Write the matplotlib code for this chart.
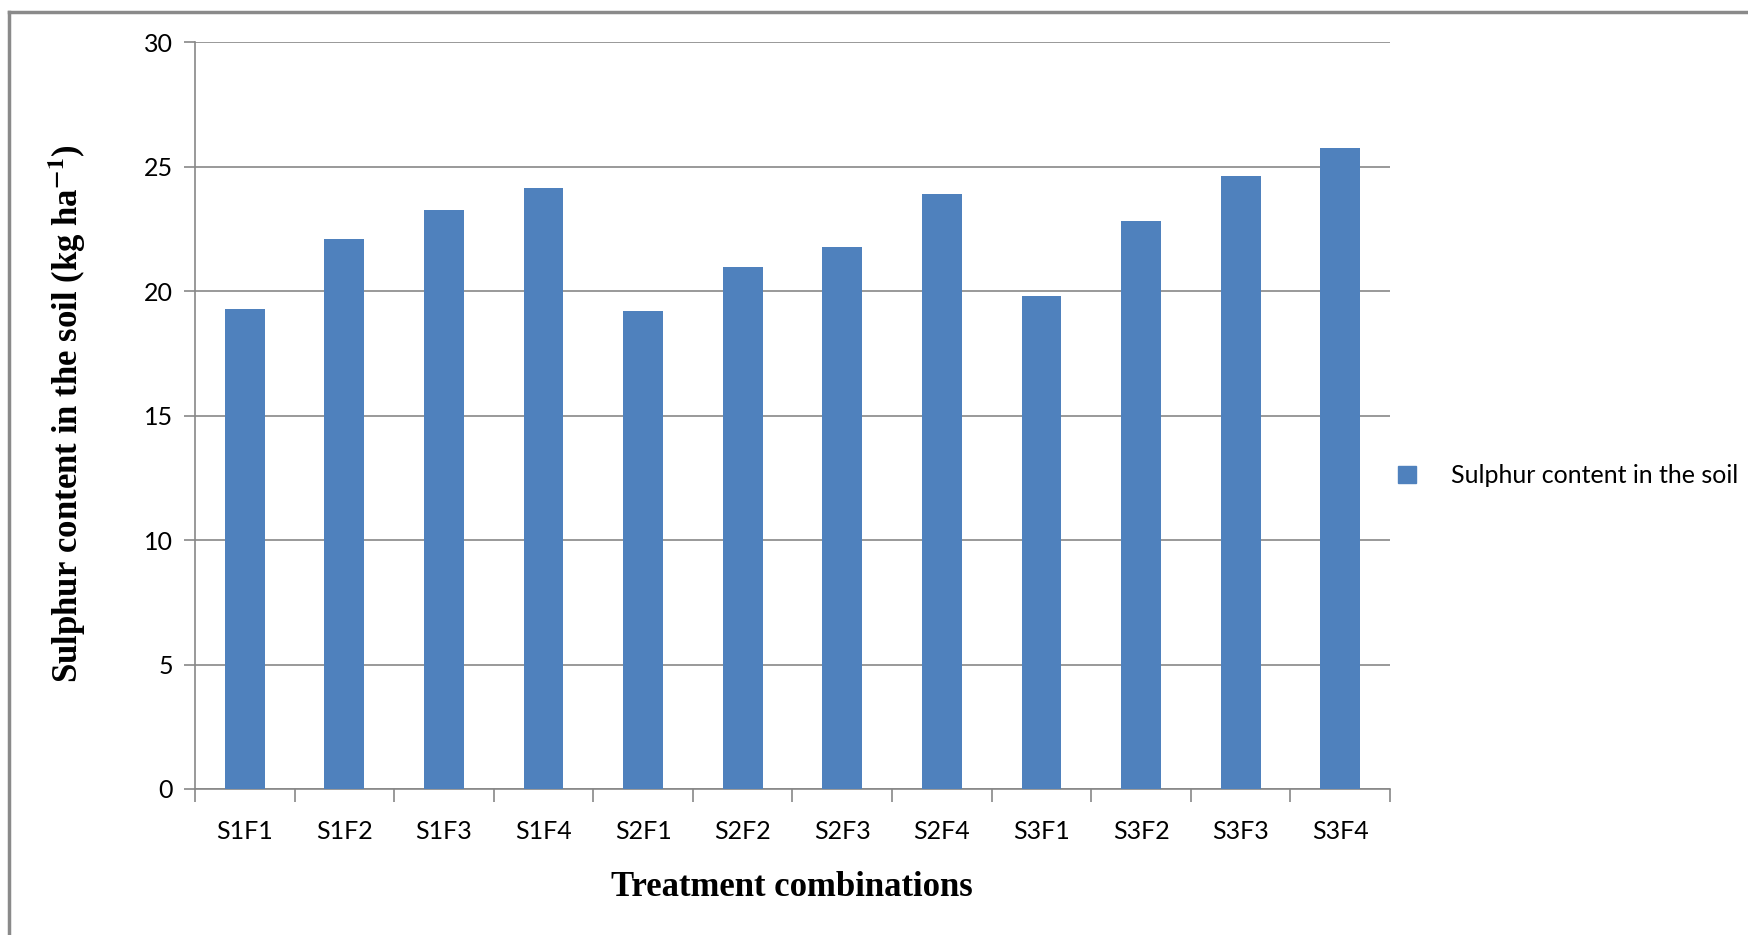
import numpy as np
import matplotlib
matplotlib.use('Agg')
import matplotlib.pyplot as plt
from matplotlib.patches import Rectangle
from matplotlib.lines import Line2D

# data
treatments = ['S1F1', 'S1F2', 'S1F3', 'S1F4', 'S2F1', 'S2F2',
              'S2F3', 'S2F4', 'S3F1', 'S3F2', 'S3F3', 'S3F4']
sulphur = [19.30, 22.09, 23.28, 24.15, 19.20, 20.96,
           21.77, 23.90, 19.82, 22.81, 24.62, 25.74]
y_ticks = [0, 5, 10, 15, 20, 25, 30]

bar_color = '#4F81BD'
grid_color = '#878787'
tick_font = ['Lato', 'DejaVu Sans']
label_font = ['Liberation Serif', 'DejaVu Serif']

plt.rcParams['mathtext.fontset'] = 'stix'

fig = plt.figure(figsize=(17.49, 9.35), dpi=100)
ax = fig.add_axes([195/1749, 1-789/935, (1390-195)/1749, (789-42.3)/935])

x = np.arange(len(treatments))
ax.bar(x, sulphur, width=0.40, color=bar_color, zorder=3)

ax.set_xlim(-0.5, len(treatments) - 0.5)
ax.set_ylim(0, 30)
ax.set_yticks(y_ticks)
ax.set_yticklabels([str(v) for v in y_ticks], family=tick_font, fontsize=18)
ax.yaxis.grid(True, color=grid_color, linewidth=1.2, zorder=0)

# category labels centred, tick marks on the boundaries
ax.set_xticks(x)
ax.set_xticklabels(treatments, family=tick_font, fontsize=18)
ax.set_xticks(np.arange(-0.5, len(treatments), 1.0), minor=True)
ax.tick_params(axis='x', which='major', length=0, pad=22)
ax.tick_params(axis='x', which='minor', length=9, width=1.2, color=grid_color, direction='out')
ax.tick_params(axis='y', length=8, width=1.2, color=grid_color, direction='out', pad=8)

for side in ['top', 'right']:
    ax.spines[side].set_visible(False)
for side in ['left', 'bottom']:
    ax.spines[side].set_color(grid_color)
    ax.spines[side].set_linewidth(1.2)

fig.text(792/1749, 1-887/935, 'Treatment combinations', family=label_font,
         fontweight='bold', fontsize=25, ha='center', va='center')
fig.text(67/1749, 1-414/935, 'Sulphur content in the soil (kg ha$^{\\mathbf{-1}}$)',
         family=label_font, fontweight='bold', fontsize=25, rotation=90,
         ha='center', va='center')

# legend
fig.legend([Rectangle((0, 0), 1, 1, color=bar_color)], ['Sulphur content in the soil'],
           loc='center left', bbox_to_anchor=(1376/1749, 1-476/935), frameon=False,
           handlelength=0.7, handleheight=0.7, handletextpad=1.4,
           prop={'family': tick_font, 'size': 18})

# outer chart frame (left and top edges only visible)
fig.add_artist(Line2D([9/1749, 9/1749], [0, 1-12/935], color='#8a8a8a', linewidth=2.5))
fig.add_artist(Line2D([9/1749, 1], [1-12/935, 1-12/935], color='#8a8a8a', linewidth=2.5))

fig.savefig('out.png', dpi=100)
